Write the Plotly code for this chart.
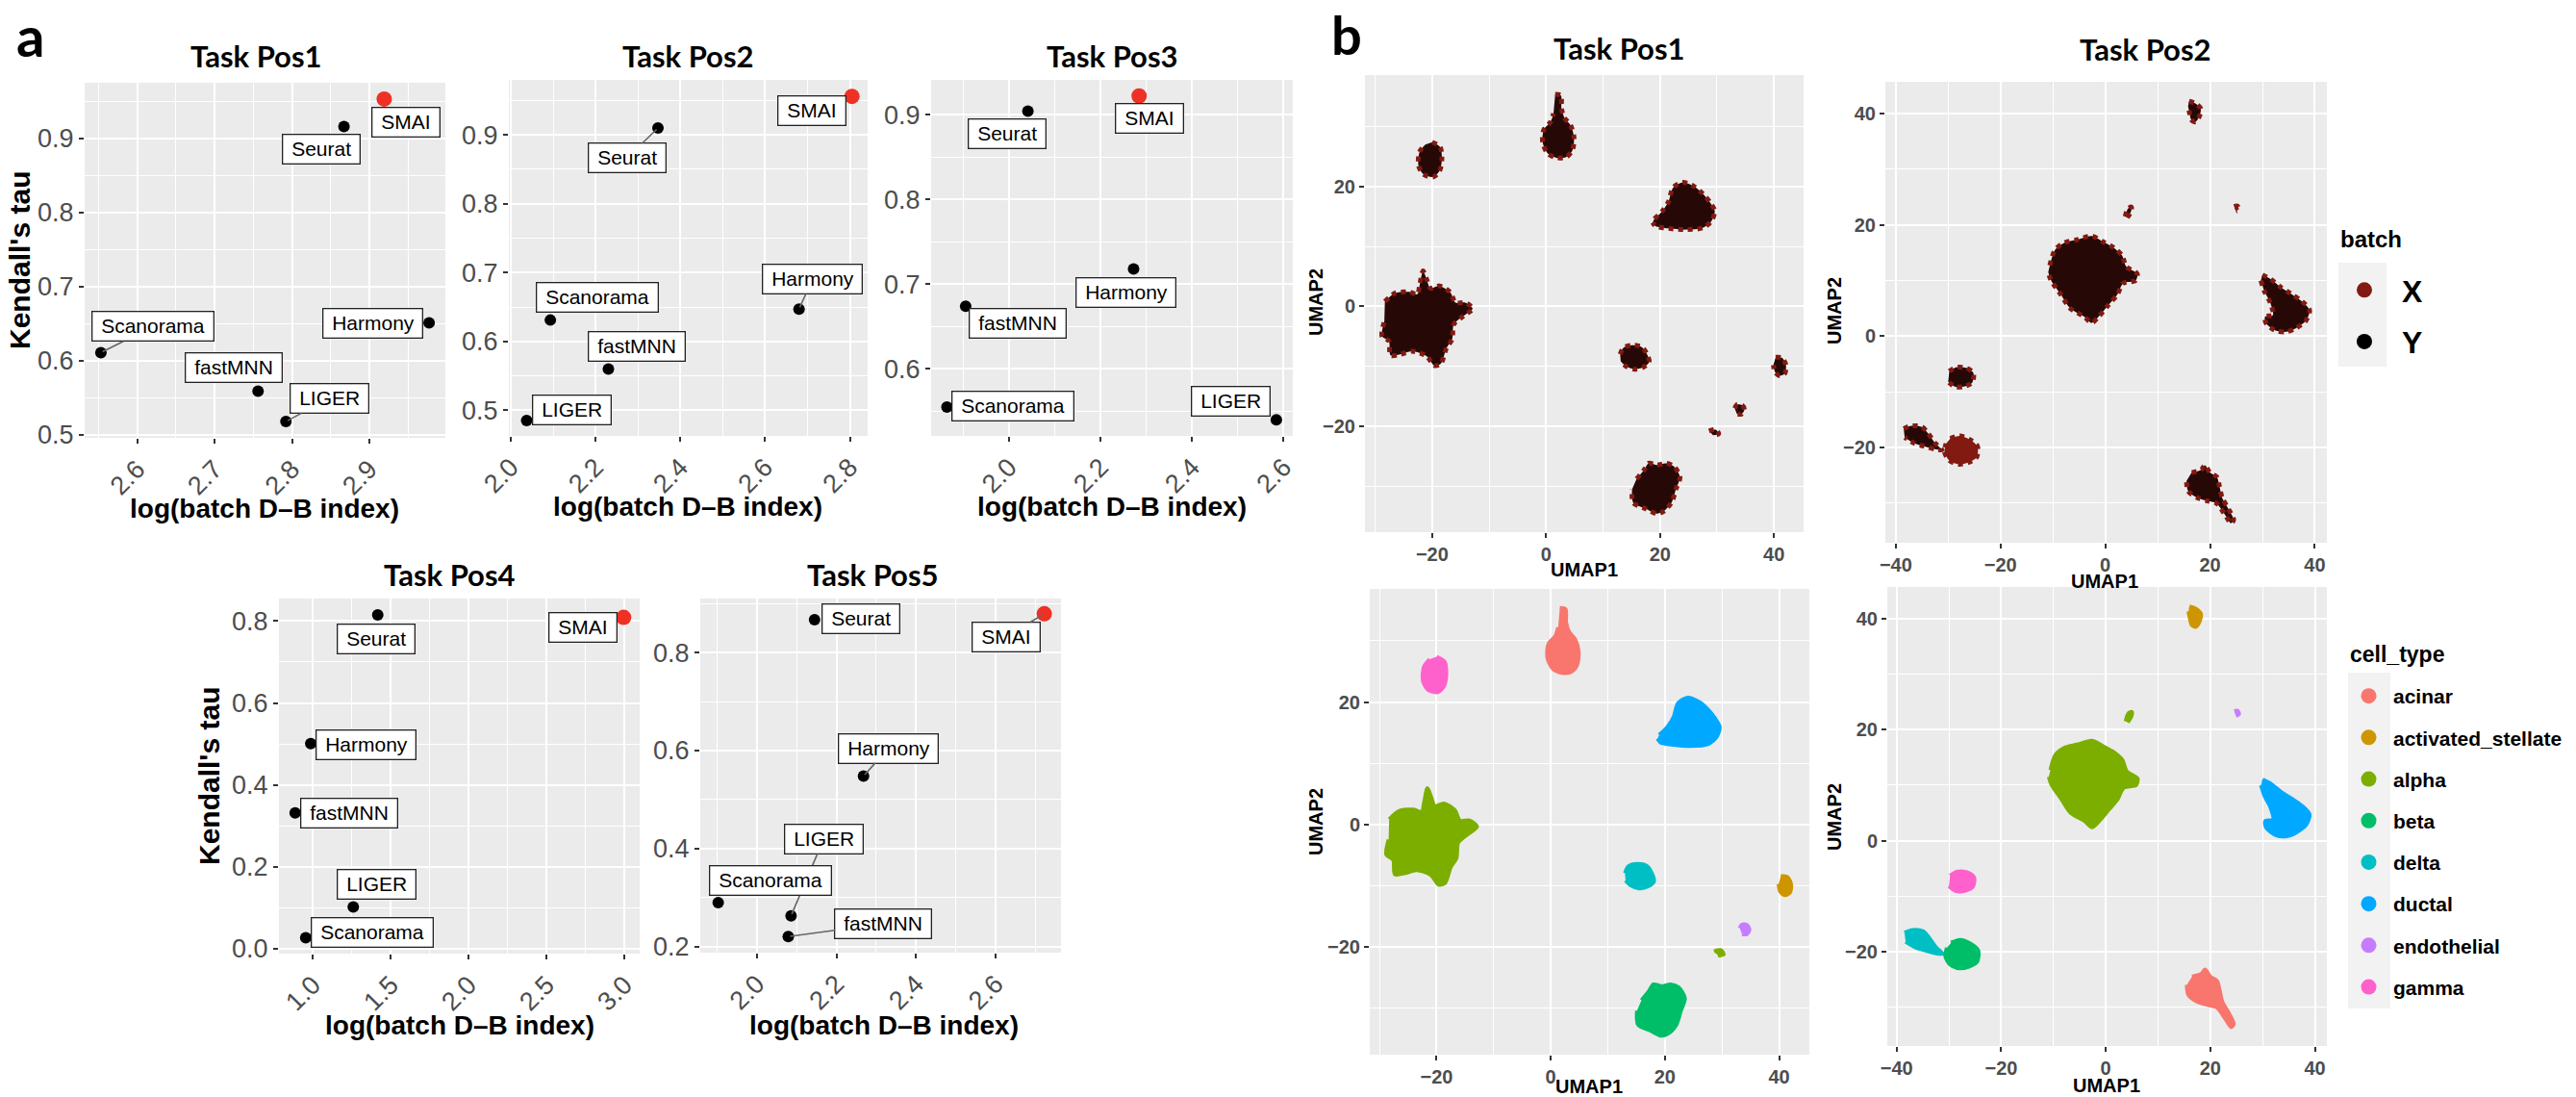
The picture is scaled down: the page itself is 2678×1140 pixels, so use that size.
import plotly.graph_objects as go

W, H = 2678, 1140

# ---------------- panel a data ----------------
methods = ["SMAI", "Seurat", "Harmony", "Scanorama", "fastMNN", "LIGER"]
task_names = ["Task Pos1", "Task Pos2", "Task Pos3", "Task Pos4", "Task Pos5"]
pos1_logdb = [2.919, 2.867, 2.977, 2.553, 2.756, 2.792]
pos1_tau = [0.953, 0.916, 0.651, 0.611, 0.559, 0.518]
pos2_logdb = [2.805, 2.347, 2.680, 2.093, 2.230, 2.037]
pos2_tau = [0.956, 0.910, 0.647, 0.631, 0.560, 0.485]
pos3_logdb = [2.284, 2.041, 2.272, 1.864, 1.905, 2.584]
pos3_tau = [0.922, 0.904, 0.718, 0.555, 0.674, 0.540]
pos4_logdb = [2.994, 1.416, 0.986, 0.954, 0.886, 1.259]
pos4_tau = [0.809, 0.815, 0.501, 0.027, 0.332, 0.102]
pos5_logdb = [2.722, 2.145, 2.268, 1.903, 2.079, 2.086]
pos5_tau = [0.879, 0.867, 0.548, 0.290, 0.221, 0.263]

# ---------------- panel b data (cluster outlines in UMAP coordinates) ----------------
cell_types = ["acinar", "activated_stellate", "alpha", "beta", "delta", "ductal", "endothelial", "gamma"]
batches = ["X", "Y"]

pos1_clusters = [
    ("gamma", [(-20.0, 27.4), (-18.6, 26.6), (-18.3, 24.5), (-18.7, 22.6), (-19.8, 21.6), (-21.5, 22.0),
               (-22.4, 23.5), (-22.2, 25.8), (-21.2, 27.0)]),
    ("acinar", [(1.6, 35.4), (2.6, 35.2), (2.7, 33.0), (3.2, 31.5), (4.3, 30.2), (4.9, 28.2), (4.6, 26.0),
                (3.5, 24.9), (1.8, 24.8), (0.3, 25.5), (-0.6, 27.3), (-0.4, 29.5), (0.8, 30.8), (1.3, 32.2)]),
    ("ductal", [(19.0, 14.6), (20.5, 16.0), (21.5, 17.5), (22.3, 19.8), (24.0, 20.7), (26.0, 20.0), (27.5, 18.8),
                (28.8, 17.3), (29.6, 15.9), (29.0, 14.2), (27.5, 13.1), (24.5, 12.8), (21.5, 13.0), (19.2, 13.4),
                (18.7, 14.0)]),
    ("alpha", [(-28.3, 0.8), (-26.5, 2.2), (-24.0, 2.4), (-22.6, 2.0), (-22.2, 3.5), (-21.6, 5.9), (-21.0, 4.6),
               (-20.3, 3.0), (-18.7, 3.4), (-16.8, 2.3), (-15.9, 0.6), (-14.2, 0.6), (-12.9, -0.4), (-14.5, -1.6),
               (-16.2, -3.0), (-16.5, -5.5), (-17.5, -7.0), (-18.5, -9.6), (-19.6, -9.9), (-21.0, -8.3),
               (-23.5, -7.5), (-25.5, -8.0), (-27.3, -8.2), (-27.6, -5.8), (-28.8, -5.0), (-28.4, -2.5)]),
    ("delta", [(13.0, -8.0), (13.6, -6.9), (15.2, -6.5), (16.8, -6.8), (17.6, -7.8), (18.1, -9.3), (17.0, -10.2),
               (15.5, -10.5), (14.0, -10.0), (13.1, -9.2)]),
    ("activated_stellate", [(40.3, -8.5), (41.4, -8.6), (42.1, -9.8), (41.9, -11.2), (41.0, -11.6), (40.2, -11.0),
                            (39.9, -9.8)]),
    ("endothelial", [(33.1, -17.0), (33.5, -16.4), (34.4, -16.5), (34.8, -17.3), (34.3, -18.0), (33.5, -18.0)]),
    ("alpha", [(28.6, -20.8), (29.8, -20.6), (30.3, -21.3), (29.3, -21.5)]),
    ("beta", [(15.9, -28.8), (17.2, -27.3), (18.0, -26.2), (19.5, -26.5), (21.0, -26.2), (22.4, -26.7), (23.5, -28.5),
              (22.8, -30.5), (22.0, -32.8), (20.5, -34.3), (19.4, -34.6), (17.5, -33.8), (15.3, -32.8),
              (15.1, -30.5)]),
]

pos2_clusters = [
    ("activated_stellate", [(16.0, 42.2), (17.2, 41.8), (18.2, 40.9), (18.0, 39.6), (17.2, 38.5), (16.4, 38.9),
                            (16.1, 40.0), (15.8, 41.3)]),
    ("alpha", [(3.8, 21.5), (4.3, 22.9), (5.0, 23.2), (4.9, 22.4), (4.2, 21.3)]),
    ("endothelial", [(24.6, 23.3), (25.2, 23.4), (25.5, 22.8), (24.9, 22.5)]),
    ("alpha", [(-10.6, 12.7), (-9.6, 15.5), (-7.8, 16.8), (-5.5, 17.3), (-2.6, 18.0), (-0.5, 17.0), (1.6, 15.9),
               (3.2, 14.5), (4.0, 12.5), (6.1, 11.2), (5.8, 10.0), (3.4, 9.5), (2.3, 7.5), (0.6, 5.6), (-1.2, 3.6),
               (-2.6, 2.4), (-4.0, 3.5), (-6.7, 5.0), (-8.5, 7.5), (-10.4, 10.1), (-10.9, 11.5)]),
    ("ductal", [(30.0, 11.0), (31.5, 10.3), (33.5, 8.8), (35.5, 7.6), (37.5, 6.3), (39.0, 4.7), (38.3, 2.8),
                (36.5, 1.5), (34.6, 0.8), (32.5, 1.0), (30.7, 2.3), (30.5, 3.5), (32.0, 3.8), (31.5, 6.0),
                (30.4, 8.0), (29.7, 10.0)]),
    ("gamma", [(-29.8, -6.3), (-28.5, -5.6), (-26.6, -5.7), (-25.2, -6.6), (-25.4, -8.3), (-26.8, -9.0),
               (-28.6, -9.1), (-30.0, -8.2)]),
    ("delta", [(-38.5, -16.6), (-37.0, -16.1), (-35.0, -16.3), (-33.8, -17.5), (-32.5, -19.2), (-31.2, -20.4),
               (-32.5, -20.3), (-34.5, -19.8), (-36.5, -19.2), (-38.3, -18.2)]),
    ("beta", [(-29.6, -18.4), (-27.8, -17.9), (-26.0, -18.5), (-24.4, -19.8), (-24.6, -21.8), (-26.2, -22.7),
              (-28.0, -23.0), (-29.8, -22.3), (-30.7, -20.8), (-30.4, -19.3)]),
    ("acinar", [(16.5, -24.5), (18.3, -24.0), (19.0, -23.2), (20.0, -24.5), (21.3, -25.3), (21.8, -27.0),
                (22.3, -29.0), (23.5, -31.0), (24.5, -33.0), (24.0, -33.6), (22.8, -32.0), (21.2, -30.0),
                (19.5, -29.6), (17.5, -29.0), (15.8, -27.8), (15.5, -26.0)]),
]
# clusters in Task Pos2 that are dominated by batch X
pos2_batch_x_clusters = ["beta", "endothelial"]

# ---------------- styles ----------------
FONT = "Liberation Sans, Arial, sans-serif"
TITLE_FONT = "Lato, Liberation Sans, sans-serif"
RED = "#EE3124"
CELL_COLORS = {"acinar": "#F8766D", "activated_stellate": "#CD9600", "alpha": "#7CAE00", "beta": "#00BE67",
               "delta": "#00BFC4", "ductal": "#00A9FF", "endothelial": "#C77CFF", "gamma": "#FF61CC"}
BATCH_COLORS = {"X": "#821A12", "Y": "#000000"}


def fx(px):
    return px / W


def fy(py):
    return 1 - py / H


A_PANELS = [
    dict(x=pos1_logdb, y=pos1_tau, box=(88, 463, 86, 455), xr=(2.532, 2.998), yr=(0.496, 0.975), xd=0.1, yd=0.1,
         title=(266, 58), xtitle=(275, 528), ytitle=(21, 270)),
    dict(x=pos2_logdb, y=pos2_tau, box=(529, 902, 83, 453), xr=(1.995, 2.842), yr=(0.4627, 0.98), xd=0.2, yd=0.1,
         title=(715, 58), xtitle=(715, 526), ytitle=None),
    dict(x=pos3_logdb, y=pos3_tau, box=(968, 1344, 83, 453), xr=(1.8295, 2.62), yr=(0.521, 0.941), xd=0.2, yd=0.1,
         title=(1156, 58), xtitle=(1156, 526), ytitle=None),
    dict(x=pos4_logdb, y=pos4_tau, box=(290, 665, 622, 991), xr=(0.782, 3.097), yr=(-0.0117, 0.855), xd=0.5,
         yd=0.2, title=(467, 597), xtitle=(478, 1065), ytitle=(217, 806)),
    dict(x=pos5_logdb, y=pos5_tau, box=(728, 1103, 622, 990), xr=(1.858, 2.764), yr=(0.188, 0.910), xd=0.2, yd=0.2,
         title=(907, 597), xtitle=(919, 1065), ytitle=None),
]

LABEL_OFFSETS = [
    {"SMAI": (23, 24, False), "Seurat": (-24, 24, False), "Harmony": (-59, 0, False),
     "Scanorama": (54, -27, True), "fastMNN": (-25, -24, False), "LIGER": (45, -24, True)},
    {"SMAI": (-42, 15, False), "Seurat": (-32, 31, True), "Harmony": (14, -31, True),
     "Scanorama": (49, -24, False), "fastMNN": (30, -23, False), "LIGER": (47, -11, False)},
    {"SMAI": (11, 23, False), "Seurat": (-22, 23, False), "Harmony": (-8, 25, False),
     "Scanorama": (69, -1, False), "fastMNN": (54, 18, False), "LIGER": (-47, -19, False)},
    {"SMAI": (-42, 10, False), "Seurat": (-2, 25, False), "Harmony": (57, 1, False),
     "Scanorama": (69, -6, False), "fastMNN": (56, 0, False), "LIGER": (24, -24, False)},
    {"SMAI": (-40, 24, True), "Seurat": (48, -1, False), "Harmony": (26, -29, True),
     "Scanorama": (54, -23, False), "fastMNN": (99, -13, True), "LIGER": (34, -80, True)},
]

B_PANELS = [
    dict(kind="batch", clusters=pos1_clusters, box=(1419, 1875, 78, 553), xr=(-31.8, 45.2), yr=(-37.7, 38.6),
         title=(1683, 50), xtitle=(1647, 592), ytitle=(1368, 314)),
    dict(kind="batch", clusters=pos2_clusters, box=(1960, 2419, 85, 564), xr=(-42.0, 42.3), yr=(-37.1, 45.7),
         title=(2230, 51), xtitle=(2188, 604), ytitle=(1907, 323)),
    dict(kind="cell", clusters=pos1_clusters, box=(1424, 1881, 612, 1096), xr=(-31.7, 45.3), yr=(-37.7, 38.5),
         title=None, xtitle=(1652, 1129), ytitle=(1368, 854)),
    dict(kind="cell", clusters=pos2_clusters, box=(1962, 2419, 610, 1087), xr=(-41.8, 42.3), yr=(-37.0, 45.7),
         title=None, xtitle=(2190, 1128), ytitle=(1907, 849)),
]

fig = go.Figure()
axes_layout = {}
annotations = []


def axis_names(n):
    return ("x" if n == 1 else f"x{n}", "y" if n == 1 else f"y{n}",
            "xaxis" if n == 1 else f"xaxis{n}", "yaxis" if n == 1 else f"yaxis{n}")


def paper_text(text, x, y, size, family=FONT, angle=0, xanchor="center", yanchor="middle"):
    return dict(text=text, x=fx(x), y=fy(y), xref="paper", yref="paper", showarrow=False, textangle=angle,
                xanchor=xanchor, yanchor=yanchor, font=dict(family=family, size=size, color="black"))


# ---------------- panel a ----------------
for i, p in enumerate(A_PANELS):
    n = i + 1
    xa, ya, xk, yk = axis_names(n)
    l, r, t, b = p["box"]
    fig.add_trace(go.Scatter(
        x=p["x"], y=p["y"], mode="markers", xaxis=xa, yaxis=ya, showlegend=False, hoverinfo="skip", opacity=1,
        marker=dict(color=[RED if m == "SMAI" else "black" for m in methods], opacity=1,
                    size=[16 if m == "SMAI" else 12 for m in methods], line=dict(width=0))))
    common = dict(showgrid=True, gridcolor="white", gridwidth=2.2, zeroline=False, showline=False,
                  ticks="outside", ticklen=5, tickwidth=1.5, tickcolor="#333333",
                  tickfont=dict(family=FONT, size=27, color="#4D4D4D"), tickformat=".1f")
    axes_layout[xk] = dict(common, domain=[fx(l), fx(r)], range=list(p["xr"]), anchor=ya, dtick=p["xd"], tick0=0,
                           tickangle=-45,
                           minor=dict(dtick=p["xd"] / 2, showgrid=True, gridcolor="white", gridwidth=1.1))
    axes_layout[yk] = dict(common, domain=[fy(b), fy(t)], range=list(p["yr"]), anchor=xa, dtick=p["yd"], tick0=0,
                           minor=dict(dtick=p["yd"] / 2, showgrid=True, gridcolor="white", gridwidth=1.1))
    annotations.append(paper_text(f"<b>{task_names[i]}</b>", p["title"][0], p["title"][1], 31, TITLE_FONT))
    annotations.append(paper_text("<b>log(batch D–B index)</b>", p["xtitle"][0], p["xtitle"][1], 28))
    if p["ytitle"]:
        annotations.append(paper_text("<b>Kendall's tau</b>", p["ytitle"][0], p["ytitle"][1], 30, angle=-90))
    # repel-style labels: segment labels first so others sit on top
    offs = LABEL_OFFSETS[i]
    order = sorted(range(len(methods)), key=lambda k: 0 if offs[methods[k]][2] else 1)
    for k in order:
        m = methods[k]
        dx, dy, seg = offs[m]
        base = dict(x=p["x"][k], y=p["y"][k], xref=xa, yref=ya, text=" " + m + " ",
                    font=dict(family=FONT, size=21, color="black"), bgcolor="white",
                    bordercolor="#222222", borderwidth=1.3, borderpad=3)
        if seg:
            base.update(showarrow=True, ax=dx, ay=dy, arrowhead=0, arrowwidth=1.6, arrowcolor="#666666",
                        standoff=2)
        else:
            base.update(showarrow=False, xshift=dx, yshift=-dy)
        annotations.append(base)

# ---------------- panel b ----------------
for j, p in enumerate(B_PANELS):
    n = 6 + j
    xa, ya, xk, yk = axis_names(n)
    l, r, t, b = p["box"]
    for ct, pts in p["clusters"]:
        xs = [q[0] for q in pts]
        ys = [q[1] for q in pts]
        if p["kind"] == "cell":
            col = CELL_COLORS[ct]
            fig.add_trace(go.Scatter(x=xs, y=ys, mode="lines", fill="toself", fillcolor=col,
                                     line=dict(color=col, width=4, shape="spline", smoothing=0.8),
                                     xaxis=xa, yaxis=ya, showlegend=False, hoverinfo="skip"))
        else:
            if n == 7 and ct in pos2_batch_x_clusters:
                fillc = BATCH_COLORS["X"]
            else:
                fillc = "#260907"
            fig.add_trace(go.Scatter(x=xs, y=ys, mode="lines", fill="toself", fillcolor=fillc,
                                     line=dict(color=BATCH_COLORS["X"], width=5, dash="dot", shape="spline",
                                               smoothing=0.8),
                                     xaxis=xa, yaxis=ya, showlegend=False, hoverinfo="skip"))
    common = dict(showgrid=True, gridcolor="white", gridwidth=1.8, zeroline=False, showline=False,
                  ticks="outside", ticklen=5, tickwidth=1.5, tickcolor="#333333", dtick=20, tick0=0,
                  tickfont=dict(family=FONT, size=20, color="#4D4D4D", weight="bold"),
                  minor=dict(dtick=10, showgrid=True, gridcolor="white", gridwidth=0.9))
    axes_layout[xk] = dict(common, domain=[fx(l), fx(r)], range=list(p["xr"]), anchor=ya)
    axes_layout[yk] = dict(common, domain=[fy(b), fy(t)], range=list(p["yr"]), anchor=xa)
    if p["title"]:
        annotations.append(paper_text(f"<b>{task_names[j]}</b>", p["title"][0], p["title"][1], 31, TITLE_FONT))
    annotations.append(paper_text("<b>UMAP1</b>", p["xtitle"][0], p["xtitle"][1], 20))
    annotations.append(paper_text("<b>UMAP2</b>", p["ytitle"][0], p["ytitle"][1], 20, angle=-90))

# legend entries
for bt in batches:
    fig.add_trace(go.Scatter(x=[None], y=[None], mode="markers", name=bt, legend="legend", legendgroup="b" + bt,
                             marker=dict(color=BATCH_COLORS[bt], size=18), xaxis="x7", yaxis="y7"))
for ct in cell_types:
    fig.add_trace(go.Scatter(x=[None], y=[None], mode="markers", name=ct, legend="legend2", legendgroup="c" + ct,
                             marker=dict(color=CELL_COLORS[ct], size=18), xaxis="x9", yaxis="y9"))

# legend titles
annotations.append(paper_text("<b>batch</b>", 2431, 248, 24, xanchor="left"))
annotations.append(paper_text("<b>cell_type</b>", 2441, 680, 23, xanchor="left"))

# panel letters
annotations.append(paper_text("<b>a</b>", 31, 0, 58, TITLE_FONT, yanchor="top"))
annotations.append(paper_text("<b>b</b>", 1400, 0, 56, TITLE_FONT, yanchor="top"))

shapes = [
    dict(type="rect", xref="paper", yref="paper", x0=fx(2431), x1=fx(2481), y0=fy(381), y1=fy(273),
         fillcolor="#F2F2F2", line=dict(width=0), layer="below"),
    dict(type="rect", xref="paper", yref="paper", x0=fx(2441), x1=fx(2485), y0=fy(1048), y1=fy(699),
         fillcolor="#F2F2F2", line=dict(width=0), layer="below"),
]

fig.update_layout(
    width=W, height=H, margin=dict(l=0, r=0, t=0, b=0, autoexpand=False),
    paper_bgcolor="white", plot_bgcolor="#EBEBEB", showlegend=True,
    annotations=annotations, shapes=shapes,
    legend=dict(x=fx(2419), y=fy(274), xanchor="left", yanchor="top", bgcolor="rgba(0,0,0,0)",
                font=dict(family=FONT, size=32, color="black", weight="bold"), tracegroupgap=9,
                itemsizing="trace", itemwidth=68),
    legend2=dict(x=fx(2437), y=fy(703), xanchor="left", yanchor="top", bgcolor="rgba(0,0,0,0)",
                 font=dict(family=FONT, size=21, color="black", weight="bold"), tracegroupgap=12.9,
                 itemsizing="trace", itemwidth=41),
    **axes_layout,
)

fig.write_html("out.html", config={"displayModeBar": False},
               post_script="document.body.style.margin='0px';")
